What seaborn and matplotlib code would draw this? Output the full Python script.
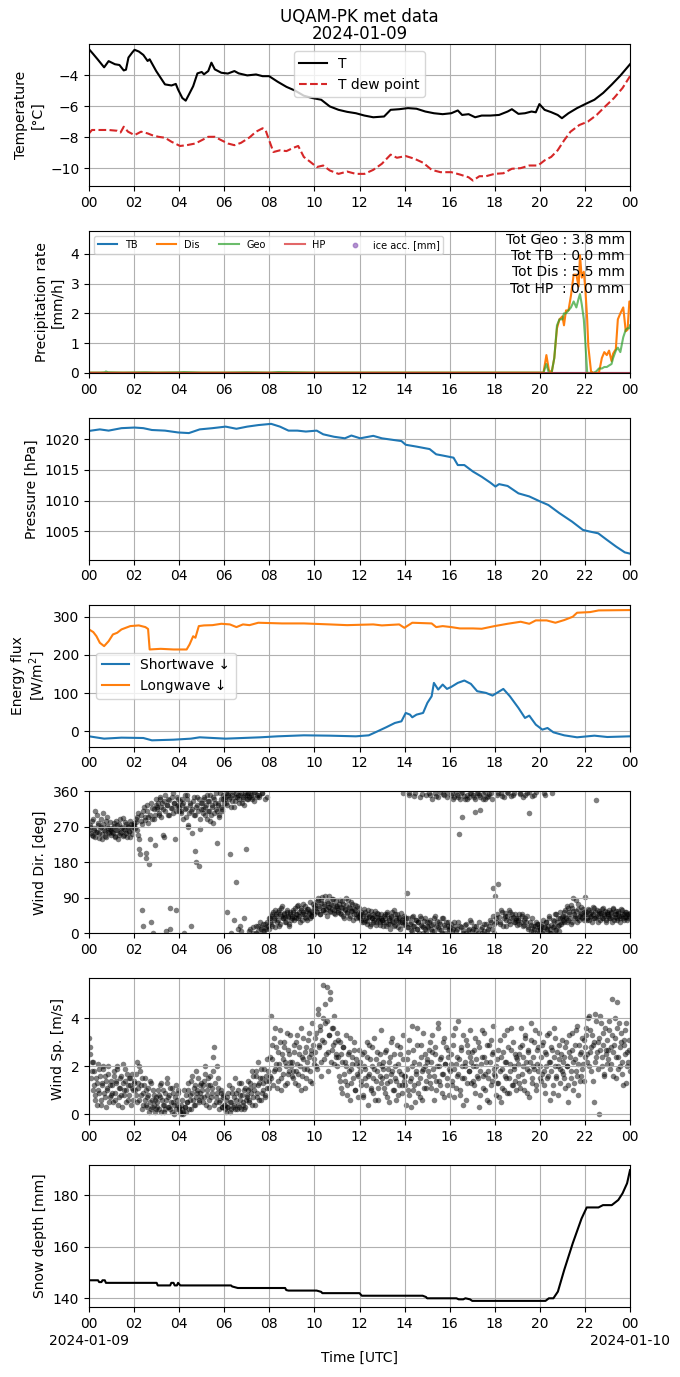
import numpy as np
import pandas as pd
import matplotlib
matplotlib.use("Agg")
import matplotlib.pyplot as plt
import matplotlib.dates as mdates
from matplotlib.ticker import FuncFormatter
import seaborn as sns

plt.rcParams['font.family'] = ['DejaVu Sans']
plt.rcParams['axes.grid'] = True

# ---------------- data (hours since 2024-01-09 00 UTC) ----------------
t_temp = [0, 0.19, 0.38, 0.67, 0.87, 1.15, 1.35, 1.54, 1.64, 1.75,
          1.92, 2.02, 2.21, 2.41, 2.6, 2.69, 2.98, 3.37, 3.66, 3.85,
          3.95, 4.14, 4.29, 4.43, 4.62, 4.81, 5.0, 5.1, 5.29, 5.43,
          5.58, 5.87, 6.16, 6.45, 6.64, 7.02, 7.41, 7.7, 7.99, 8.37,
          8.76, 9.14, 9.53, 9.91, 10.3, 10.68, 11.07, 11.45, 11.84, 12.22,
          12.61, 13.09, 13.38, 13.76, 14.15, 14.53, 14.92, 15.3, 15.69, 16.07,
          16.36, 16.55, 16.84, 17.13, 17.42, 17.8, 18.19, 18.57, 18.76, 19.05,
          19.34, 19.63, 19.82, 19.98, 20.21, 20.5, 20.79, 20.98, 21.27, 21.65,
          22.04, 22.42, 22.81, 23.19, 23.58, 24.0]
temp = [-2.33, -2.65, -2.98, -3.5, -3.1, -3.3, -3.35, -3.7, -3.65, -2.87,
        -2.54, -2.37, -2.48, -2.7, -3.09, -2.98, -3.74, -4.6, -4.67, -4.57,
        -4.93, -5.48, -5.65, -5.26, -4.72, -3.89, -3.8, -3.95, -3.74, -3.2,
        -3.63, -3.85, -3.9, -3.74, -3.89, -4.02, -3.96, -4.07, -4.07, -4.43,
        -4.76, -5.0, -5.33, -5.48, -5.59, -6.02, -6.24, -6.37, -6.46, -6.61,
        -6.72, -6.67, -6.24, -6.2, -6.13, -6.17, -6.35, -6.46, -6.52, -6.46,
        -6.28, -6.57, -6.52, -6.72, -6.61, -6.61, -6.57, -6.35, -6.2, -6.5,
        -6.46, -6.35, -6.4, -5.87, -6.24, -6.39, -6.57, -6.78, -6.46, -6.13,
        -5.85, -5.59, -5.15, -4.61, -4.02, -3.3]

t_dew = [0, 0.13, 0.48, 0.87, 1.25, 1.4, 1.54, 1.73, 2.02, 2.31,
         2.6, 2.79, 3.08, 3.37, 3.66, 4.04, 4.33, 4.72, 5.0, 5.29,
         5.58, 5.87, 6.16, 6.45, 6.74, 7.12, 7.41, 7.7, 7.83, 7.99,
         8.18, 8.47, 8.76, 9.05, 9.28, 9.53, 9.82, 10.1, 10.39, 10.68,
         11.07, 11.45, 11.84, 12.22, 12.61, 12.99, 13.38, 13.66, 14.05, 14.43,
         14.82, 15.2, 15.59, 16.07, 16.45, 16.84, 17.03, 17.32, 17.61, 17.99,
         18.38, 18.76, 19.15, 19.53, 19.92, 20.21, 20.5, 20.79, 21.08, 21.36,
         21.75, 22.13, 22.52, 22.9, 23.29, 23.67, 24.0]
dew = [-7.76, -7.54, -7.54, -7.54, -7.59, -7.7, -7.33, -7.65, -7.87, -7.65,
       -7.76, -7.87, -7.98, -8.04, -8.3, -8.57, -8.52, -8.41, -8.2, -7.98,
       -7.98, -8.2, -8.41, -8.52, -8.37, -8.02, -7.65, -7.43, -7.54, -8.2,
       -8.96, -8.85, -8.9, -8.7, -8.57, -9.28, -9.6, -9.93, -9.83, -10.15,
       -10.37, -10.22, -10.37, -10.37, -10.11, -9.72, -9.13, -9.33, -9.22, -9.39,
       -9.65, -10.11, -10.26, -10.26, -10.41, -10.59, -10.8, -10.52, -10.52, -10.37,
       -10.33, -10.04, -10.0, -9.83, -9.83, -9.5, -9.28, -8.85, -8.2, -7.65,
       -7.22, -7.0, -6.57, -6.02, -5.48, -4.83, -4.07]

t_prec = [0, 0.5, 0.7, 0.75, 0.85, 1.5, 2.5, 3.0, 4.0, 4.2,
          5.0, 6.0, 7.0, 8.0, 8.4, 10.0, 12.0, 14.0, 16.0, 18.0,
          20.0, 20.16, 20.29, 20.4, 20.52, 20.64, 20.76, 20.87, 21.0, 21.07,
          21.16, 21.27, 21.38, 21.5, 21.62, 21.72, 21.78, 21.86, 21.95, 22.02,
          22.1, 22.15, 22.27, 22.38, 22.5, 22.62, 22.75, 22.86, 22.97, 23.07,
          23.18, 23.25, 23.37, 23.46, 23.57, 23.7, 23.81, 23.89, 23.97, 24.0]
prec_dis = [0.01, 0.01, 0.01, 0.01, 0.01, 0.01, 0.01, 0.01, 0.01, 0.01,
            0.01, 0.01, 0.01, 0.01, 0.01, 0.01, 0.01, 0.01, 0.01, 0.01,
            0.01, 0.01, 0.6, 0.1, 0.0, 0.5, 1.5, 1.8, 1.9, 1.6,
            2.1, 2.1, 2.6, 3.3, 3.3, 2.9, 3.95, 3.2, 3.4, 2.8,
            1.8, 0.9, 0.05, 0.0, 0.0, 0.0, 0.5, 0.7, 0.6, 0.75,
            0.4, 0.65, 0.8, 1.8, 2.0, 2.2, 1.4, 1.45, 2.4, 2.4]
prec_geo = [0.01, 0.01, 0.02, 0.05, 0.02, 0.01, 0.02, 0.01, 0.02, 0.03,
            0.01, 0.01, 0.02, 0.01, 0.03, 0.01, 0.01, 0.01, 0.01, 0.01,
            0.01, 0.01, 0.3, 0.0, 0.0, 0.5, 1.6, 1.8, 1.8, 2.0,
            2.0, 2.1, 2.2, 2.4, 2.2, 2.5, 2.65, 2.3, 1.8, 1.0,
            0.0, 0.0, 0.0, 0.0, 0.05, 0.15, 0.15, 0.2, 0.2, 0.25,
            0.3, 0.5, 0.75, 0.85, 0.7, 1.2, 1.45, 1.5, 1.5, 1.6]
t_tb = [0, 24]
prec_tb = [0.0, 0.0]
t_hp = [0, 24]
prec_hp = [0.0, 0.0]
ice_t = []
ice_acc = []
totals_text = "Tot Geo : 3.8 mm\nTot TB  : 0.0 mm\nTot Dis : 5.5 mm\nTot HP  : 0.0 mm"

t_pres = [0, 0.48, 0.87, 1.44, 2.02, 2.41, 2.79, 3.37, 3.95, 4.43,
          4.91, 5.48, 6.06, 6.54, 7.02, 7.51, 8.08, 8.47, 8.85, 9.24,
          9.62, 10.1, 10.39, 10.87, 11.35, 11.64, 12.03, 12.61, 12.99, 13.47,
          13.86, 14.05, 14.53, 15.11, 15.4, 15.69, 16.17, 16.36, 16.65, 17.03,
          17.42, 17.8, 18.03, 18.19, 18.57, 19.05, 19.53, 20.0, 20.38, 20.86,
          21.43, 21.91, 22.2, 22.59, 22.97, 23.38, 23.77, 24.0]
pres = [1021.35, 1021.6, 1021.4, 1021.8, 1021.9, 1021.8, 1021.5, 1021.4, 1021.1, 1021.0,
        1021.6, 1021.8, 1022.05, 1021.7, 1022.05, 1022.3, 1022.5, 1022.05, 1021.4, 1021.4,
        1021.25, 1021.4, 1020.8, 1020.4, 1020.15, 1020.6, 1020.15, 1020.55, 1020.15, 1019.9,
        1019.7, 1019.1, 1018.8, 1018.4, 1017.55, 1017.35, 1017.0, 1015.8, 1015.8, 1014.75,
        1013.9, 1012.95, 1012.3, 1012.7, 1012.4, 1011.2, 1010.7, 1009.9, 1009.3, 1008.0,
        1006.6, 1005.25, 1005.0, 1004.7, 1003.65, 1002.55, 1001.6, 1001.4]

t_lw = [0, 0.19, 0.33, 0.48, 0.67, 0.87, 1.06, 1.25, 1.44, 1.83,
        2.21, 2.5, 2.62, 2.69, 3.18, 3.75, 4.33, 4.46, 4.62, 4.72, 4.87,
        5.1, 5.48, 5.87, 6.25, 6.54, 6.83, 7.12, 7.51, 8.56, 9.53,
        10.68, 11.45, 12.61, 12.99, 13.76, 13.99, 14.34, 15.2, 15.4, 15.69,
        16.07, 16.45, 17.03, 17.42, 17.99, 18.57, 19.15, 19.53, 19.82, 20.3,
        20.69, 21.08, 21.46, 21.65, 22.23, 22.61, 24.0]
longwave = [266.8, 259.8, 249, 231.8, 223, 236, 253.6, 258, 266.8, 275.5,
            277.3, 272.9, 268, 214.3, 216, 214.3, 214.3, 227.4, 249, 245, 275.5,
            277.3, 278, 281.6, 279.9, 272.9, 279.9, 278, 284.3, 282.5, 282.5,
            279.9, 278, 279.9, 277.3, 279.9, 271, 284.3, 282.5, 272.9, 275.5,
            272.9, 269.4, 269.4, 268.5, 275.5, 281.6, 286.9, 281.6, 290.4, 290.4,
            284.3, 291.3, 300, 310.5, 312.2, 316.6, 317.5]

t_sw = [0, 0.67, 1.44, 2.41, 2.79, 3.75, 4.52, 4.91, 6.06, 7.6,
        8.37, 9.53, 10.68, 11.84, 12.41, 12.8, 13.18, 13.57, 13.86, 14.05,
        14.24, 14.34, 14.53, 14.82, 15.01, 15.2, 15.3, 15.49, 15.69, 15.88,
        16.07, 16.36, 16.65, 16.94, 17.22, 17.61, 17.9, 18.38, 18.67, 19.05,
        19.34, 19.53, 19.82, 20.11, 20.34, 20.6, 21.08, 21.65, 22.42, 22.99,
        24.0]
shortwave = [-13.1, -19.2, -16.6, -17.5, -23.6, -21.9, -19.2, -15.7, -19.2, -15.7,
             -13.1, -10.5, -11.4, -13.1, -10.5, 0, 10.5, 21.9, 26.2, 48.1,
             43.7, 36.7, 43.7, 48.1, 74.4, 91.8, 126.8, 109.3, 122.4, 111,
             116.3, 126.8, 133, 124.2, 105, 100.6, 93.6, 111, 91.8, 61.2,
             35, 41.1, 17.5, 4.4, 8.7, -2.6, -10.5, -15.7, -11.4, -14.9,
             -13.1]

# wind direction [deg], one row per hour (first set of samples)
wind_dir_a = [
    [262, 275, 250, 290, 268, 245, 258, 300, 280, 255, 270, 240, 305, 262, 248, 285, 272, 258, 265, 250],
    [268, 255, 280, 245, 262, 275, 250, 290, 258, 270, 248, 265, 282, 255, 272, 260, 245, 278, 265, 270],
    [275, 290, 262, 305, 240, 200, 285, 60, 310, 295, 190, 325, 280, 175, 300, 30, 318, 290, 225, 340],
    [315, 330, 300, 345, 320, 250, 335, 310, 5, 325, 340, 300, 65, 318, 355, 330, 240, 310, 345, 325],
    [320, 305, 340, 330, 0, 315, 295, 350, 270, 325, 310, 255, 335, 300, 210, 320, 345, 170, 290, 315],
    [330, 305, 345, 320, 290, 335, 310, 350, 300, 325, 280, 340, 315, 230, 330, 295, 355, 320, 310, 340],
    [345, 330, 55, 355, 340, 200, 320, 350, 35, 335, 355, 345, 10, 330, 350, 5, 340, 325, 355, 215],
    [350, 340, 5, 355, 345, 15, 335, 358, 0, 350, 20, 345, 10, 355, 25, 5, 340, 15, 30, 10],
    [30, 45, 20, 55, 40, 15, 50, 35, 60, 25, 45, 70, 38, 50, 28, 55, 42, 20, 48, 35],
    [45, 60, 35, 50, 70, 40, 55, 30, 65, 48, 75, 42, 58, 35, 62, 50, 80, 45, 55, 68],
    [65, 80, 55, 90, 70, 50, 85, 60, 75, 95, 62, 45, 78, 68, 55, 88, 72, 60, 50, 82],
    [70, 55, 85, 48, 65, 75, 40, 60, 90, 52, 68, 45, 80, 58, 35, 62, 72, 50, 42, 65],
    [40, 55, 30, 48, 62, 35, 25, 50, 42, 18, 58, 38, 30, 45, 22, 52, 35, 40, 28, 48],
    [35, 20, 48, 30, 55, 25, 40, 12, 45, 32, 60, 22, 38, 50, 15, 42, 28, 35, 355, 45],
    [25, 40, 102, 15, 350, 30, 5, 45, 20, 355, 35, 10, 28, 345, 40, 18, 0, 32, 12, 350],
    [20, 355, 35, 10, 340, 25, 5, 45, 348, 15, 30, 358, 8, 40, 352, 22, 0, 345, 28, 12],
    [15, 350, 5, 340, 30, 358, 10, 345, 252, 20, 355, 295, 0, 340, 25, 350, 8, 345, 35, 355],
    [10, 345, 308, 20, 355, 0, 350, 312, 15, 340, 5, 358, 25, 345, 10, 352, 30, 340, 115, 2],
    [96, 40, 350, 125, 30, 355, 55, 20, 345, 45, 35, 358, 60, 25, 348, 50, 42, 355, 30, 38],
    [35, 50, 352, 28, 45, 345, 22, 40, 355, 15, 304, 30, 5, 348, 20, 10, 358, 25, 8, 15],
    [10, 25, 0, 355, 15, 30, 5, 20, 45, 12, 0, 35, 18, 50, 8, 28, 40, 22, 55, 30],
    [45, 30, 60, 40, 70, 35, 55, 25, 65, 90, 48, 38, 58, 30, 75, 45, 52, 40, 62, 35],
    [92, 48, 35, 60, 42, 55, 30, 50, 65, 40, 337, 45, 58, 35, 52, 62, 40, 48, 30, 55],
    [45, 60, 38, 52, 30, 65, 42, 50, 35, 58, 45, 40, 62, 48, 33, 55, 42, 50, 38, 45],
]
# wind direction [deg], second set of samples (in between the first set)
wind_dir_b = [
    [270, 255, 285, 248, 262, 310, 258, 275, 242, 266, 290, 252, 278, 260, 245, 295, 268, 255, 282, 262],
    [258, 272, 248, 285, 262, 240, 276, 255, 268, 292, 250, 262, 278, 245, 270, 258, 285, 252, 275, 280],
    [268, 282, 295, 250, 215, 300, 278, 20, 320, 288, 205, 310, 295, 240, 330, 290, 0, 315, 300, 325],
    [320, 305, 340, 295, 330, 315, 245, 350, 325, 300, 338, 10, 318, 345, 305, 330, 60, 322, 340, 310],
    [335, 310, 325, 290, 350, 318, 340, 275, 305, 330, 20, 315, 345, 300, 180, 325, 310, 340, 265, 330],
    [315, 340, 300, 325, 350, 310, 335, 285, 320, 345, 305, 330, 355, 310, 325, 300, 340, 315, 350, 330],
    [340, 355, 325, 350, 345, 0, 335, 358, 320, 345, 130, 350, 340, 20, 355, 330, 345, 40, 350, 340],
    [355, 345, 10, 350, 340, 0, 358, 20, 345, 5, 350, 30, 15, 355, 5, 25, 10, 345, 20, 40],
    [40, 25, 50, 35, 60, 45, 30, 55, 20, 48, 65, 38, 52, 42, 30, 60, 45, 25, 55, 40],
    [55, 42, 65, 38, 50, 72, 45, 60, 35, 55, 48, 70, 40, 62, 52, 38, 58, 45, 75, 50],
    [72, 58, 85, 65, 48, 78, 92, 60, 70, 55, 82, 68, 95, 58, 75, 62, 88, 52, 70, 65],
    [60, 75, 52, 68, 82, 45, 62, 72, 55, 85, 40, 65, 58, 75, 48, 60, 38, 70, 52, 45],
    [50, 35, 45, 28, 55, 40, 32, 60, 45, 25, 38, 50, 35, 58, 30, 42, 48, 22, 40, 35],
    [28, 45, 38, 20, 50, 35, 25, 42, 55, 30, 18, 48, 35, 28, 40, 10, 52, 30, 22, 38],
    [30, 15, 38, 355, 25, 8, 42, 20, 348, 35, 12, 30, 2, 45, 22, 352, 15, 38, 5, 28],
    [15, 30, 350, 22, 5, 40, 355, 18, 32, 345, 10, 25, 0, 38, 350, 15, 30, 358, 20, 8],
    [25, 355, 12, 345, 20, 5, 350, 30, 340, 15, 358, 8, 348, 22, 0, 340, 12, 355, 28, 5],
    [350, 20, 340, 8, 355, 30, 345, 12, 0, 352, 25, 340, 5, 348, 18, 35, 355, 10, 45, 25],
    [30, 50, 355, 42, 25, 60, 348, 38, 52, 20, 45, 355, 32, 55, 40, 350, 28, 48, 35, 22],
    [40, 25, 355, 50, 18, 35, 350, 28, 45, 12, 358, 22, 38, 5, 350, 18, 30, 0, 25, 12],
    [20, 5, 35, 15, 350, 28, 10, 40, 0, 22, 355, 15, 32, 8, 48, 20, 5, 38, 25, 42],
    [35, 55, 42, 28, 65, 48, 38, 72, 30, 58, 45, 85, 40, 62, 35, 50, 68, 42, 55, 48],
    [55, 40, 62, 35, 50, 45, 68, 38, 55, 42, 60, 30, 48, 52, 38, 65, 45, 58, 35, 50],
    [50, 38, 55, 42, 62, 35, 48, 58, 40, 52, 30, 45, 60, 38, 50, 42, 55, 35, 48, 52],
]

# wind speed [m/s], one row per hour (first set of samples)
wind_sp_a = [
    [3.2, 2.5, 1.8, 2.2, 1.2, 0.8, 1.5, 0.4, 1.0, 1.9, 0.6, 1.3, 2.0, 0.9, 1.6, 0.3, 1.1, 1.7, 0.7, 1.4],
    [1.2, 0.5, 1.8, 0.9, 1.4, 2.0, 0.7, 1.1, 1.6, 0.3, 1.3, 0.8, 1.9, 1.0, 0.6, 1.5, 1.2, 0.4, 1.7, 1.0],
    [1.4, 0.8, 2.2, 1.1, 0.6, 1.8, 1.2, 0.2, 0.9, 1.5, 0.4, 0.7, 1.1, 0.1, 0.5, 1.3, 0.3, 0.8, 0.6, 0.2],
    [0.5, 1.0, 0.2, 0.7, 1.3, 0.4, 0.1, 0.9, 0.6, 1.5, 0.3, 0.8, 0.2, 1.1, 0.5, 0.0, 0.7, 1.2, 0.4, 0.9],
    [0.2, 0.0, 0.6, 0.1, 1.0, 0.3, 0.1, 0.5, 1.3, 0.8, 0.2, 1.6, 0.6, 1.1, 0.4, 1.8, 0.9, 0.5, 1.2, 0.7],
    [1.0, 0.5, 1.4, 2.0, 0.8, 1.2, 0.3, 1.6, 0.7, 1.1, 2.4, 2.8, 0.5, 0.9, 1.5, 0.2, 0.6, 1.0, 0.3, 0.8],
    [0.4, 0.1, 0.7, 0.3, 1.2, 0.5, 0.2, 0.9, 0.4, 1.5, 0.6, 0.2, 1.0, 0.3, 0.8, 1.3, 0.5, 0.2, 1.1, 0.6],
    [0.8, 1.4, 0.5, 1.1, 1.8, 0.7, 1.2, 0.4, 1.6, 0.9, 2.2, 1.3, 0.6, 1.5, 1.0, 1.9, 0.8, 1.4, 2.3, 1.1],
    [1.6, 4.1, 2.3, 1.2, 3.2, 1.9, 2.8, 1.4, 2.1, 3.5, 1.0, 2.5, 1.7, 3.0, 2.2, 1.3, 2.7, 1.8, 3.3, 2.0],
    [2.2, 1.5, 2.9, 1.8, 3.3, 1.2, 2.5, 2.0, 3.6, 1.6, 2.3, 1.1, 2.8, 1.9, 3.1, 2.4, 1.4, 2.7, 3.8, 2.1],
    [2.6, 3.4, 1.9, 4.2, 2.8, 3.7, 2.2, 5.4, 3.0, 4.6, 2.5, 3.9, 1.8, 3.3, 5.1, 2.7, 3.6, 2.1, 3.0, 2.4],
    [2.0, 3.1, 1.4, 2.5, 0.9, 2.8, 1.7, 2.2, 3.3, 1.2, 2.6, 0.6, 1.9, 2.4, 1.5, 3.0, 1.0, 2.1, 1.6, 2.7],
    [1.8, 1.2, 2.5, 0.7, 2.0, 1.5, 3.0, 0.4, 1.7, 2.3, 1.1, 2.8, 0.9, 1.9, 1.4, 2.6, 0.6, 2.1, 1.6, 3.5],
    [1.5, 2.2, 0.9, 2.7, 1.3, 1.9, 0.5, 2.4, 1.7, 3.2, 1.0, 2.0, 1.4, 2.9, 0.8, 1.8, 2.5, 1.2, 3.3, 1.6],
    [1.2, 0.4, 1.9, 2.6, 0.8, 1.5, 3.7, 1.0, 2.2, 0.5, 1.7, 2.9, 1.3, 0.7, 2.4, 1.8, 3.4, 1.1, 2.0, 1.4],
    [2.3, 1.6, 3.0, 1.1, 2.6, 1.9, 0.6, 2.8, 1.4, 3.6, 2.0, 1.2, 2.4, 0.9, 1.7, 3.2, 2.1, 1.5, 2.7, 0.8],
    [1.8, 2.5, 1.2, 3.3, 0.7, 2.1, 1.6, 3.9, 2.3, 1.0, 2.8, 1.5, 0.4, 2.0, 3.1, 1.3, 2.6, 1.8, 3.5, 2.2],
    [1.4, 2.7, 0.9, 2.0, 1.6, 3.0, 0.3, 1.8, 2.4, 1.1, 3.4, 1.7, 2.2, 0.6, 1.5, 2.9, 1.2, 2.5, 3.7, 1.9],
    [1.6, 0.8, 2.3, 1.3, 3.1, 0.5, 1.9, 2.6, 1.0, 2.2, 1.5, 3.5, 0.9, 1.8, 2.7, 1.2, 3.0, 2.0, 1.4, 2.4],
    [2.1, 1.3, 2.8, 3.6, 1.7, 2.4, 1.0, 3.2, 1.9, 2.6, 0.7, 2.2, 3.8, 1.5, 2.0, 3.0, 1.2, 2.7, 1.8, 3.4],
    [2.0, 1.4, 2.9, 1.8, 0.9, 2.5, 3.3, 1.6, 2.2, 0.6, 2.8, 1.2, 3.6, 2.0, 1.5, 2.6, 0.8, 2.3, 1.9, 3.1],
    [1.7, 2.4, 1.1, 3.0, 2.0, 0.5, 2.6, 1.5, 3.4, 2.2, 1.3, 2.9, 1.8, 3.7, 0.8, 2.5, 1.6, 3.2, 2.1, 1.4],
    [2.8, 3.6, 2.2, 4.1, 2.6, 1.8, 3.3, 2.9, 0.5, 4.2, 2.4, 3.0, 0.0, 2.7, 3.8, 2.0, 3.4, 1.6, 2.5, 3.1],
    [2.3, 3.5, 1.9, 2.8, 4.8, 2.6, 3.2, 1.5, 4.7, 2.4, 3.8, 2.0, 3.0, 1.7, 2.9, 3.5, 1.3, 2.6, 2.2, 3.1],
]
# wind speed [m/s], second set of samples (in between the first set)
wind_sp_b = [
    [2.8, 1.5, 2.2, 1.0, 1.8, 0.6, 1.3, 2.1, 0.9, 1.6, 0.4, 1.2, 1.9, 0.7, 1.4, 1.0, 2.0, 0.5, 1.2, 0.8],
    [0.9, 1.6, 0.6, 1.3, 1.9, 0.4, 1.1, 1.5, 0.8, 2.1, 1.0, 1.4, 0.5, 1.7, 1.2, 0.8, 1.5, 1.1, 0.6, 1.3],
    [1.0, 1.7, 0.5, 1.3, 2.0, 0.8, 1.5, 0.4, 1.2, 0.6, 1.0, 0.3, 0.8, 1.4, 0.2, 0.6, 1.0, 0.4, 0.1, 0.7],
    [0.3, 0.8, 1.2, 0.1, 0.6, 1.0, 0.4, 0.2, 1.3, 0.7, 0.3, 1.1, 0.5, 0.1, 0.9, 0.4, 0.2, 0.6, 1.0, 0.3],
    [0.1, 0.4, 0.2, 0.0, 0.3, 0.8, 0.5, 1.0, 0.2, 0.6, 1.4, 0.9, 0.4, 1.2, 0.7, 1.0, 1.5, 0.6, 0.9, 1.3],
    [1.2, 0.7, 1.7, 0.4, 1.0, 1.5, 0.6, 1.2, 0.9, 1.8, 0.4, 1.3, 0.7, 2.0, 1.1, 0.5, 0.9, 0.3, 0.7, 0.4],
    [0.2, 0.6, 0.3, 0.9, 0.1, 0.5, 1.1, 0.3, 0.7, 0.2, 0.9, 0.4, 1.3, 0.6, 0.2, 0.8, 0.4, 1.0, 0.3, 0.7],
    [1.0, 0.6, 1.3, 0.9, 0.4, 1.6, 1.0, 1.8, 0.7, 1.2, 0.6, 1.5, 1.9, 0.9, 1.3, 0.7, 1.6, 1.1, 1.8, 1.4],
    [2.4, 1.5, 2.9, 1.8, 3.6, 2.1, 1.1, 2.6, 1.9, 3.0, 1.5, 2.3, 2.8, 1.2, 2.0, 3.4, 1.7, 2.5, 2.2, 1.6],
    [1.8, 2.6, 1.3, 3.0, 2.1, 1.7, 2.8, 1.0, 2.4, 3.2, 1.9, 2.6, 1.5, 2.2, 3.4, 1.8, 2.5, 1.3, 2.9, 2.3],
    [3.2, 2.0, 4.4, 2.9, 3.5, 1.6, 3.1, 4.0, 2.3, 3.8, 5.3, 2.6, 3.3, 4.8, 2.2, 3.6, 2.9, 4.1, 2.5, 3.4],
    [2.4, 1.6, 3.0, 1.1, 2.2, 2.8, 1.4, 2.0, 0.8, 2.5, 1.8, 3.2, 1.3, 2.1, 2.7, 1.0, 2.3, 1.7, 0.7, 2.0],
    [2.2, 1.4, 0.8, 2.6, 1.9, 1.2, 2.4, 1.6, 2.9, 1.0, 2.0, 1.5, 3.2, 0.6, 2.3, 1.8, 1.1, 2.5, 1.3, 2.0],
    [1.9, 1.1, 2.6, 1.6, 0.7, 2.2, 1.4, 3.0, 1.8, 1.0, 2.5, 1.5, 0.6, 2.1, 1.2, 2.8, 1.7, 0.9, 2.3, 1.4],
    [1.6, 2.3, 1.0, 3.1, 1.4, 0.3, 2.0, 2.7, 1.2, 1.8, 3.6, 0.9, 2.1, 1.5, 2.9, 0.6, 1.9, 2.5, 1.1, 2.2],
    [1.8, 2.7, 1.3, 2.2, 3.3, 1.6, 2.5, 1.0, 2.0, 3.8, 1.4, 2.3, 1.7, 3.0, 0.7, 2.1, 2.8, 1.2, 2.4, 1.9],
    [2.1, 1.4, 2.9, 1.9, 3.6, 1.1, 2.4, 1.7, 0.8, 2.7, 2.0, 3.3, 1.5, 2.2, 0.6, 2.9, 1.8, 2.4, 1.3, 2.6],
    [2.0, 1.2, 3.2, 2.3, 1.5, 2.8, 0.8, 2.1, 3.5, 1.6, 2.4, 1.0, 2.9, 1.8, 0.5, 2.2, 3.1, 1.4, 2.6, 1.7],
    [2.0, 1.3, 2.7, 0.7, 1.8, 2.4, 1.1, 3.3, 1.6, 2.2, 0.9, 2.8, 1.5, 2.1, 3.6, 1.2, 1.9, 2.5, 1.0, 2.3],
    [1.6, 2.5, 1.1, 2.9, 2.0, 1.4, 3.3, 2.2, 0.9, 2.7, 1.8, 3.1, 1.3, 2.4, 1.9, 3.5, 1.0, 2.1, 2.8, 1.5],
    [2.4, 1.7, 3.0, 1.2, 2.6, 2.0, 1.5, 3.4, 2.2, 1.8, 2.7, 0.9, 2.4, 3.2, 1.6, 2.0, 2.9, 1.3, 2.5, 1.8],
    [2.2, 1.5, 2.8, 2.0, 1.2, 3.3, 2.4, 1.8, 2.7, 1.0, 2.3, 3.5, 1.6, 2.1, 2.9, 1.4, 2.6, 1.9, 3.1, 2.4],
    [3.3, 2.5, 4.0, 2.0, 3.5, 2.8, 1.4, 3.0, 2.2, 3.9, 2.6, 1.9, 3.2, 4.1, 2.4, 2.9, 1.7, 3.6, 2.7, 2.1],
    [2.7, 3.9, 2.1, 3.3, 1.6, 2.9, 4.0, 2.4, 3.6, 1.9, 2.8, 3.4, 2.2, 1.2, 3.1, 2.5, 3.8, 2.0, 2.7, 1.8],
]

t_snow = [0, 0.4, 0.45, 0.55, 0.6, 0.7, 0.75, 3.0, 3.05, 3.6, 3.65, 3.75, 3.8, 3.9, 3.95, 4.05,
          6.3, 6.35, 6.6, 6.65, 8.7, 8.75, 8.85, 10.1, 10.3, 10.35, 12.0, 12.1,
          14.8, 14.95, 15.0, 16.3, 16.4, 16.6, 16.7, 16.9, 17.0, 20.1, 20.25, 20.4,
          20.6, 20.8, 21.08, 21.46, 21.85, 22.08, 22.33, 22.6, 22.8, 23.19, 23.48,
          23.67, 23.87, 24.0]
snow = [147, 147, 146.3, 146.3, 147, 147, 146, 146, 145, 145, 146, 146, 145, 145, 146, 145,
        145, 144.6, 144, 144, 144, 143.2, 143, 143, 142.5, 142, 142, 141,
        141, 140.5, 140, 140, 139.6, 139.6, 140, 139.6, 139, 139, 139, 140,
        140, 142.6, 151, 161.4, 171, 175.3, 175.3, 175.3, 176.2, 176.2, 178.2,
        180.8, 184.7, 189.8]

# ---------------- helpers ----------------
T0 = pd.Timestamp("2024-01-09")
T1 = pd.Timestamp("2024-01-10")


def ts(hours):
    return T0 + pd.to_timedelta(np.asarray(hours, dtype=float) * 3600.0, unit="s")


def hourly_rows(rows_a, rows_b):
    hrs, vals = [], []
    for rows, off in ((rows_a, 0.25), (rows_b, 0.75)):
        for h, row in enumerate(rows):
            n = len(row)
            for k, v in enumerate(row):
                hrs.append(h + (k + off) / n)
                vals.append(v)
    return ts(hrs), vals


def fmt_hour(x, pos):
    return mdates.num2date(x).strftime("%H")


fig, axes = plt.subplots(7, 1, figsize=(6.8, 13.77), dpi=100)
fig.subplots_adjust(left=0.1309, right=0.9265, top=0.968, bottom=0.0508, hspace=0.315)

# 1 temperature
ax = axes[0]
sns.lineplot(x=ts(t_temp), y=temp, ax=ax, color="black", lw=1.5, label="T")
sns.lineplot(x=ts(t_dew), y=dew, ax=ax, color="tab:red", lw=1.5, linestyle="--", label="T dew point")
ax.legend(loc="upper center")
ax.set_ylim(-11.16, -2.0)
ax.set_yticks([-10, -8, -6, -4])
ax.set_ylabel("Temperature\n[°C]")
ax.set_title("UQAM-PK met data\n2024-01-09", linespacing=0.92, pad=4)

# 2 precipitation
ax = axes[1]
sns.lineplot(x=ts(t_tb), y=prec_tb, ax=ax, color="C0", lw=1.5, label="TB")
sns.lineplot(x=ts(t_prec), y=prec_dis, ax=ax, color="C1", lw=1.5, label="Dis")
sns.lineplot(x=ts(t_prec), y=prec_geo, ax=ax, color="C2", alpha=0.7, lw=1.5, label="Geo")
sns.lineplot(x=ts(t_hp), y=prec_hp, ax=ax, color="C3", alpha=0.7, lw=1.5, label="HP")
ax.scatter(ts(ice_t), ice_acc, color="C4", alpha=0.7, s=10, label="ice acc. [mm]")
ax.legend(loc="upper left", ncol=5, fontsize=7)
ax.text(0.99, 0.985, totals_text, transform=ax.transAxes, ha="right", va="top", fontsize=10)
ax.set_ylim(0, 4.77)
ax.set_yticks([0, 1, 2, 3, 4])
ax.set_ylabel("Precipitation rate\n[mm/h]")

# 3 pressure
ax = axes[2]
sns.lineplot(x=ts(t_pres), y=pres, ax=ax, color="C0", lw=1.5)
ax.set_ylim(1000.4, 1023.5)
ax.set_yticks([1005, 1010, 1015, 1020])
ax.set_ylabel("Pressure [hPa]")

# 4 energy flux
ax = axes[3]
sns.lineplot(x=ts(t_sw), y=shortwave, ax=ax, color="C0", lw=1.5, label="Shortwave ↓")
sns.lineplot(x=ts(t_lw), y=longwave, ax=ax, color="C1", lw=1.5, label="Longwave ↓")
ax.legend(loc="center left")
ax.set_ylim(-40, 332)
ax.set_yticks([0, 100, 200, 300])
ax.set_ylabel("Energy flux\n[W/m$^2$]")

# 5 wind direction
ax = axes[4]
wd_t, wd_v = hourly_rows(wind_dir_a, wind_dir_b)
sns.scatterplot(x=wd_t, y=wd_v, ax=ax, color="black", alpha=0.5, s=16, linewidth=0)
ax.set_ylim(0, 360)
ax.set_yticks([0, 90, 180, 270, 360])
ax.set_ylabel("Wind Dir. [deg]")

# 6 wind speed
ax = axes[5]
ws_t, ws_v = hourly_rows(wind_sp_a, wind_sp_b)
sns.scatterplot(x=ws_t, y=ws_v, ax=ax, color="black", alpha=0.5, s=16, linewidth=0)
ax.set_ylim(-0.25, 5.68)
ax.set_yticks([0, 2, 4])
ax.set_ylabel("Wind Sp. [m/s]")

# 7 snow depth
ax = axes[6]
sns.lineplot(x=ts(t_snow), y=snow, ax=ax, color="black", lw=1.5)
ax.set_ylim(136.6, 191.8)
ax.set_yticks([140, 160, 180])
ax.set_ylabel("Snow depth [mm]")

for ax in axes:
    ax.set_xlim(T0, T1)
    ax.xaxis.set_major_locator(mdates.HourLocator(byhour=range(0, 24, 2)))
    ax.xaxis.set_major_formatter(FuncFormatter(fmt_hour))
    ax.set_xlabel("")
    ax.grid(True, color="#b0b0b0", lw=0.8)

# date labels under the midnight ticks of the bottom panel
axb = axes[6]
for d in (T0, T1):
    axb.annotate(d.strftime("%Y-%m-%d"), xy=(mdates.date2num(d), 0),
                 xycoords=("data", "axes fraction"), xytext=(0, -19.5),
                 textcoords="offset points", ha="center", va="top", fontsize=10,
                 annotation_clip=False)
axb.set_xlabel("Time [UTC]")
axb.xaxis.set_label_coords(0.5, -0.305)

fig.savefig("out.png", dpi=100)
